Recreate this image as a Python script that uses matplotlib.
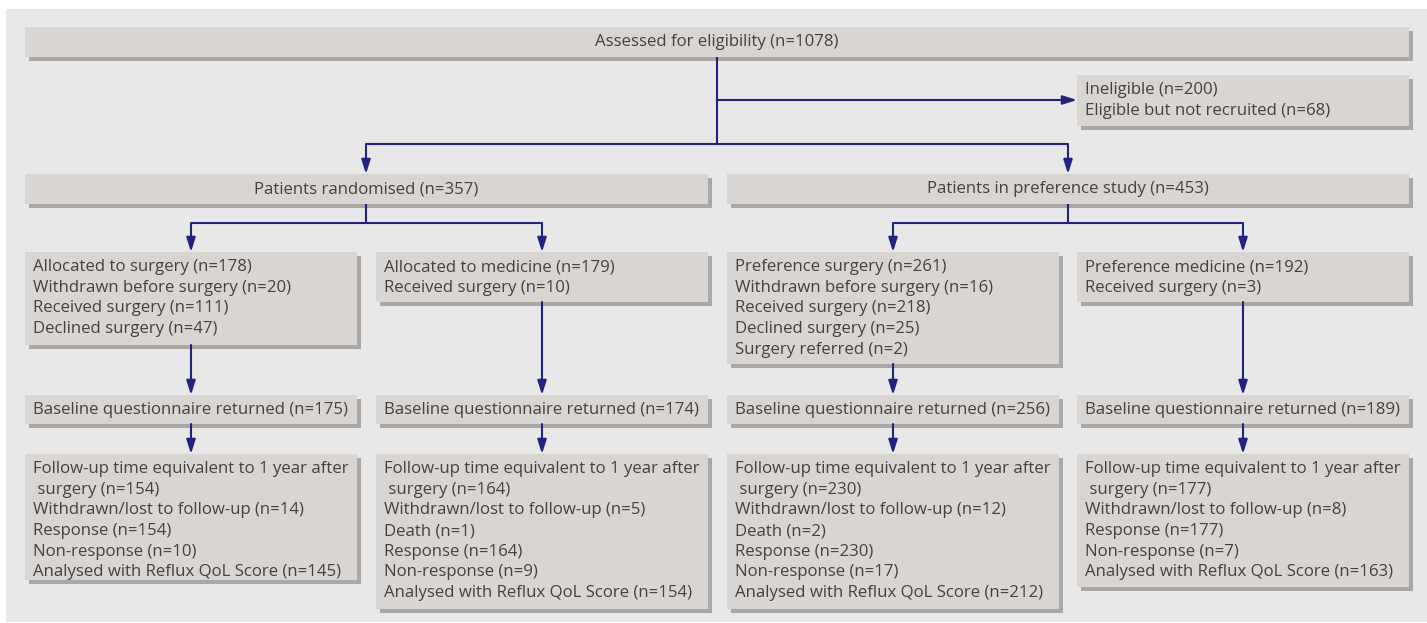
import matplotlib.pyplot as plt
from matplotlib.patches import Rectangle

plt.rcParams['font.family'] = ['Open Sans', 'DejaVu Sans']

# box texts
top_text = "Assessed for eligibility (n=1078)"
excluded_text = ["Ineligible (n=200)", "Eligible but not recruited (n=68)"]
arm_texts = ["Patients randomised (n=357)", "Patients in preference study (n=453)"]
group_texts = [
    ["Allocated to surgery (n=178)", "Withdrawn before surgery (n=20)",
     "Received surgery (n=111)", "Declined surgery (n=47)"],
    ["Allocated to medicine (n=179)", "Received surgery (n=10)"],
    ["Preference surgery (n=261)", "Withdrawn before surgery (n=16)",
     "Received surgery (n=218)", "Declined surgery (n=25)", "Surgery referred (n=2)"],
    ["Preference medicine (n=192)", "Received surgery (n=3)"],
]
baseline_n = [175, 174, 256, 189]
followup_texts = [
    ["Follow-up time equivalent to 1 year after", " surgery (n=154)",
     "Withdrawn/lost to follow-up (n=14)", "Response (n=154)",
     "Non-response (n=10)", "Analysed with Reflux QoL Score (n=145)"],
    ["Follow-up time equivalent to 1 year after", " surgery (n=164)",
     "Withdrawn/lost to follow-up (n=5)", "Death (n=1)", "Response (n=164)",
     "Non-response (n=9)", "Analysed with Reflux QoL Score (n=154)"],
    ["Follow-up time equivalent to 1 year after", " surgery (n=230)",
     "Withdrawn/lost to follow-up (n=12)", "Death (n=2)", "Response (n=230)",
     "Non-response (n=17)", "Analysed with Reflux QoL Score (n=212)"],
    ["Follow-up time equivalent to 1 year after", " surgery (n=177)",
     "Withdrawn/lost to follow-up (n=8)", "Response (n=177)",
     "Non-response (n=7)", "Analysed with Reflux QoL Score (n=163)"],
]

# layout (pixels)
W, H = 1427, 623
col_x = [(25, 357), (376, 708), (727, 1059), (1077, 1409)]
group_bottom = [345, 302, 364, 302]
follow_bottom = [580, 609, 609, 587]

FILL = '#d9d5d2'
SHADOW = '#aba7a4'
TXT = '#444141'
NAVY = '#23237d'
FS = 12.1
LINE = 20.7

fig = plt.figure(figsize=(W / 100, H / 100), dpi=100)
ax = fig.add_axes([0, 0, 1, 1])
ax.set_xlim(0, W)
ax.set_ylim(H, 0)
ax.axis('off')

ax.add_patch(Rectangle((6, 9), W - 6, H - 10, color='#e8e8e8', lw=0, zorder=0))


def box(x0, y0, x1, y1, lines=None, center=False):
    ax.add_patch(Rectangle((x0 + 4, y0 + 4), x1 - x0, y1 - y0, color=SHADOW, lw=0, zorder=1))
    ax.add_patch(Rectangle((x0, y0), x1 - x0, y1 - y0, color=FILL, lw=0, zorder=2))
    if lines is None:
        return
    if center:
        ax.text((x0 + x1) / 2, (y0 + y1) / 2, lines, ha='center', va='center',
                fontsize=FS, color=TXT, zorder=3)
        return
    if len(lines) == 1:
        ax.text(x0 + 8, (y0 + y1) / 2, lines[0], ha='left', va='center',
                fontsize=FS, color=TXT, zorder=3)
        return
    for i, s in enumerate(lines):
        ax.text(x0 + 8, y0 + 15 + i * LINE, s, ha='left', va='center',
                fontsize=FS, color=TXT, zorder=3)


def line(xs, ys):
    ax.plot(xs, ys, color=NAVY, lw=1.5, solid_capstyle='butt', zorder=4)


def arrow(x0, y0, x1, y1):
    ax.annotate('', xy=(x1, y1), xytext=(x0, y0),
                arrowprops=dict(arrowstyle='-|>,head_length=0.85,head_width=0.27',
                                mutation_scale=10, color=NAVY, lw=1.5,
                                shrinkA=0, shrinkB=0), zorder=4)


# boxes
box(25, 27, 1409, 57, top_text, center=True)
box(1077, 75, 1409, 126, excluded_text)
box(25, 174, 708, 204, arm_texts[0], center=True)
box(727, 174, 1409, 204, arm_texts[1], center=True)
for (x0, x1), t, b in zip(col_x, group_texts, group_bottom):
    box(x0, 252, x1, b, t)
for (x0, x1), n in zip(col_x, baseline_n):
    box(x0, 395, x1, 424, [f"Baseline questionnaire returned (n={n})"])
for (x0, x1), t, b in zip(col_x, followup_texts, follow_bottom):
    box(x0, 454, x1, b, t)

# connectors
mid = [(a + b) / 2 for a, b in col_x]
line([717, 717], [57, 144])
arrow(717, 100, 1077, 100)
line([366, 1068], [144, 144])
arrow(366, 144, 366, 174)
arrow(1068, 144, 1068, 174)
for cx, (l, r) in zip([366, 1068], [(mid[0], mid[1]), (mid[2], mid[3])]):
    line([cx, cx], [204, 223])
    line([l, r], [223, 223])
    arrow(l, 223, l, 252)
    arrow(r, 223, r, 252)
for m, b in zip(mid, group_bottom):
    arrow(m, b, m, 395)
    arrow(m, 424, m, 454)

fig.savefig('out.png', dpi=100, facecolor='white')
